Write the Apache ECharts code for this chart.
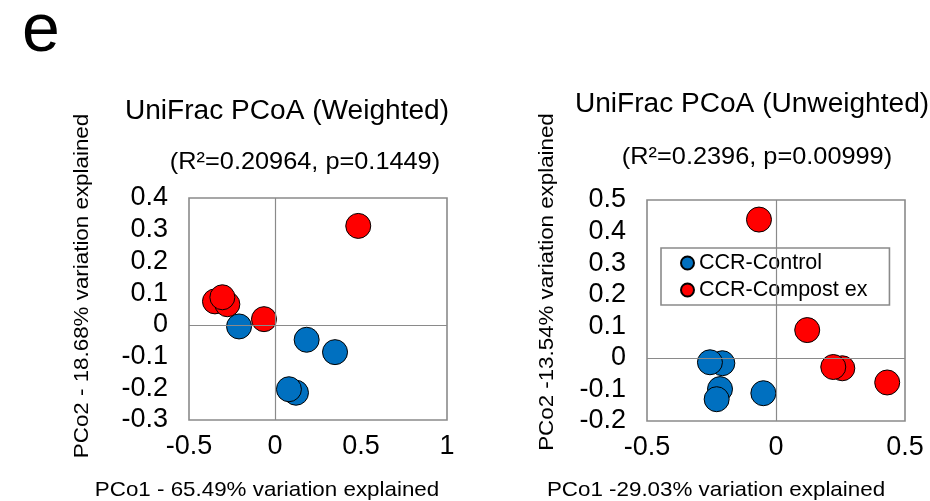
<!DOCTYPE html>
<html><head><meta charset="utf-8">
<script src="https://cdn.jsdelivr.net/npm/echarts@6/dist/echarts.min.js"></script>
<style>html,body{margin:0;padding:0;background:#fff}#c{width:930px;height:501px}</style>
</head><body><div id="c"></div>
<script>
// ---- data (PCo1, PCo2) ----
const weightedControl = [[-0.209,-0.005],[0.184,-0.047],[0.349,-0.086],[0.122,-0.214],[0.081,-0.203]];
const weightedCompost = [[0.484,0.312],[-0.349,0.074],[-0.277,0.065],[-0.306,0.087],[-0.064,0.018]];
const unweightedControl = [[-0.208,-0.017],[-0.256,-0.014],[-0.217,-0.099],[-0.230,-0.131],[-0.049,-0.112]];
const unweightedCompost = [[-0.066,0.438],[0.121,0.088],[0.257,-0.033],[0.222,-0.029],[0.431,-0.078]];
const seriesNames = ['CCR-Control','CCR-Compost ex'];
// axis ranges [min, max, interval]
const leftX = [-0.5, 1, 0.5];
const leftY = [-0.3, 0.4, 0.1];
const rightX = [-0.5, 0.5, 0.5];
const rightY = [-0.2, 0.5, 0.1];
const panelTitles = ['UniFrac PCoA (Weighted)','UniFrac PCoA (Unweighted)'];
const panelStats = ['(R\u00B2=0.20964, p=0.1449)','(R\u00B2=0.2396, p=0.00999)'];
const xNames = ['PCo1 - 65.49% variation explained','PCo1 -29.03% variation explained'];
const yNames = ['PCo2 - 18.68% variation explained','PCo2 -13.54% variation explained'];

const FONT = '"Liberation Sans", Arial, Helvetica, sans-serif';
const BLUE = '#0070C0', RED = '#FF0000';
const fmt = v => { const r = Math.round(v*10)/10; return r === 0 ? '0' : String(r); };

function mkAxis(r, gridIndex, isX) {
  return {
    type: 'value', gridIndex, min: r[0], max: r[1], interval: r[2],
    axisLine: {show: false}, axisTick: {show: false}, splitLine: {show: false},
    axisLabel: {
      color: '#000', fontFamily: FONT, fontSize: 27, margin: isX ? 13 : 21,
      showMinLabel: true, showMaxLabel: true, formatter: fmt
    }
  };
}
function mkSeries(name, data, idx, withLines) {
  const s = {
    name, type: 'scatter', xAxisIndex: idx, yAxisIndex: idx, data,
    symbol: 'circle', symbolSize: 25,
    itemStyle: {color: name === seriesNames[0] ? BLUE : RED, borderColor: '#000', borderWidth: 1, opacity: 1},
    emphasis: {disabled: true}, z: 3
  };
  if (withLines) {
    s.markLine = {
      silent: true, symbol: 'none', label: {show: false}, animation: false,
      lineStyle: {color: '#8a8a8a', width: 1.2, type: 'solid'},
      data: [{xAxis: 0}, {yAxis: 0}]
    };
  }
  return s;
}
function txt(text, x, y, size, sx, rot) {
  return {
    type: 'text', x, y, rotation: rot || 0, scaleX: sx || 1, silent: true,
    style: {text, fill: '#000', font: size + 'px ' + FONT, fontSize: size, fontFamily: FONT,
      textAlign: 'center', textVerticalAlign: 'middle', align: 'center', verticalAlign: 'middle'}
  };
}

const chart = echarts.init(document.getElementById('c'), null, {renderer: 'canvas'});
chart.setOption({
  animation: false,
  backgroundColor: '#fff',
  grid: [
    {left: 189, top: 198, width: 258, height: 222, show: true, borderColor: '#8a8a8a', borderWidth: 1.6, backgroundColor: 'transparent'},
    {left: 647, top: 200, width: 258, height: 221, show: true, borderColor: '#8a8a8a', borderWidth: 1.6, backgroundColor: 'transparent'}
  ],
  xAxis: [mkAxis(leftX, 0, true), mkAxis(rightX, 1, true)],
  yAxis: [mkAxis(leftY, 0, false), mkAxis(rightY, 1, false)],
  legend: {
    data: seriesNames, orient: 'vertical', left: 661, top: 248,
    icon: 'circle', itemWidth: 13, itemHeight: 13, itemGap: 5,
    padding: [4, 22, 4, 19], borderColor: '#8a8a8a', borderWidth: 1.6,
    backgroundColor: '#fff',
    textStyle: {color: '#000', fontFamily: FONT, fontSize: 21.5}, selectedMode: false
  },
  graphic: [
    txt('e', 41, 32, 68),
    txt(panelTitles[0], 287, 112, 27, 1.04),
    txt(panelStats[0], 305, 162, 24, 1.055),
    txt(panelTitles[1], 752, 105, 27, 1.04),
    txt(panelStats[1], 757, 157, 24, 1.055),
    txt(xNames[0], 267, 490, 21, 1.065),
    txt(xNames[1], 716, 490, 21, 1.065),
    txt(yNames[0], 82, 286, 21, 1.065, Math.PI/2),
    txt(yNames[1], 547, 282, 21, 1.063, Math.PI/2)
  ],
  series: [
    mkSeries(seriesNames[0], weightedControl, 0, true),
    mkSeries(seriesNames[1], weightedCompost, 0, false),
    mkSeries(seriesNames[0], unweightedControl, 1, true),
    mkSeries(seriesNames[1], unweightedCompost, 1, false)
  ]
});
</script>
</body></html>
